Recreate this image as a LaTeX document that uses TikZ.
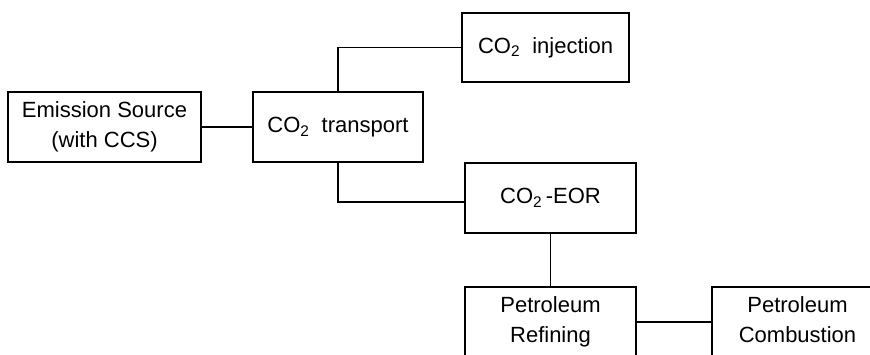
\documentclass[tikz,border=0pt]{standalone}
\usepackage{fontspec}
\setmainfont{Liberation Sans}
\usepackage{tikz}
\usetikzlibrary{calc}
\usetikzlibrary{positioning}

\begin{document}
\begin{tikzpicture}[x=1pt, y=-1pt]
        \clip (0,0) rectangle (870,354);
        \begin{scope}[every node/.style={draw, line width=1.6pt, rectangle, align=center,
                inner sep=0, minimum height=70pt, font=\fontsize{22}{30}\selectfont}]
            \node[minimum width=193pt] (emis)  at (104.5,127) {Emission Source\\(with CCS)};
            \node[minimum width=170pt] (trans) at (338,127)   {CO\textsubscript{2}\ \ transport};
            \node[minimum width=167pt, minimum height=69pt]
                (inj) at (545.5,47.5) {CO\textsubscript{2}\ \ injection};
            \node[minimum width=171pt] (eor)   at (550.5,198) {CO\textsubscript{2}\,-EOR};
            \node[minimum width=171pt] (refin) at (550.5,322) {Petroleum\\Refining};
            \node[minimum width=171pt] (comb)  at (797.5,322) {Petroleum\\Combustion\vphantom{g}};
        \end{scope}
        \draw[line width=1.6pt]
            (emis) -- (trans)
            (trans.north) |- (inj.west)
            (trans.south) |- ([yshift=-4pt]eor.west)
            (eor) -- (refin)
            (refin) -- (comb);
    \end{tikzpicture}
\end{document}
